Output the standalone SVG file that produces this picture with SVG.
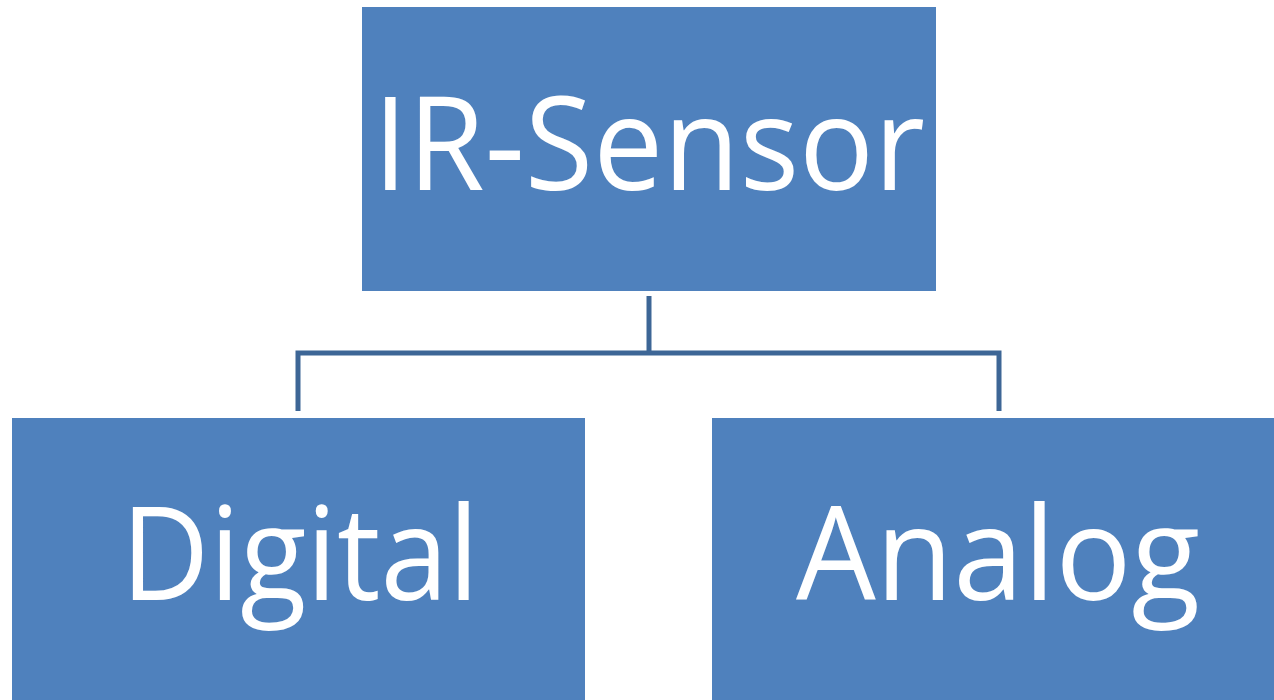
<svg xmlns="http://www.w3.org/2000/svg" width="1274" height="700" viewBox="0 0 1274 700">
<style>
.box{fill:#4F81BD;}
.lbl{fill:#FFFFFF;font-family:"Open Sans","Liberation Sans",sans-serif;font-size:130px;text-anchor:middle;}
.conn{fill:none;stroke:#3D6696;stroke-width:5;stroke-linejoin:miter;}
</style>
<rect x="0" y="0" width="1274" height="700" fill="#FFFFFF"/>
<g id="connectors">
<path class="conn" d="M649,296 V353"/>
<path class="conn" d="M298,411 V353 H999 V411"/>
</g>
<g id="node-ir-sensor">
<rect class="box" x="362" y="7" width="574" height="284"/>
<text class="lbl" x="649" y="190" textLength="552" lengthAdjust="spacingAndGlyphs">IR-Sensor</text>
</g>
<g id="node-digital">
<rect class="box" x="12" y="418" width="573" height="290"/>
<text class="lbl" x="300" y="600" textLength="358" lengthAdjust="spacingAndGlyphs">Digital</text>
</g>
<g id="node-analog">
<rect class="box" x="712" y="418" width="574" height="290"/>
<text class="lbl" x="998" y="600" textLength="404" lengthAdjust="spacingAndGlyphs">Analog</text>
</g>
</svg>
